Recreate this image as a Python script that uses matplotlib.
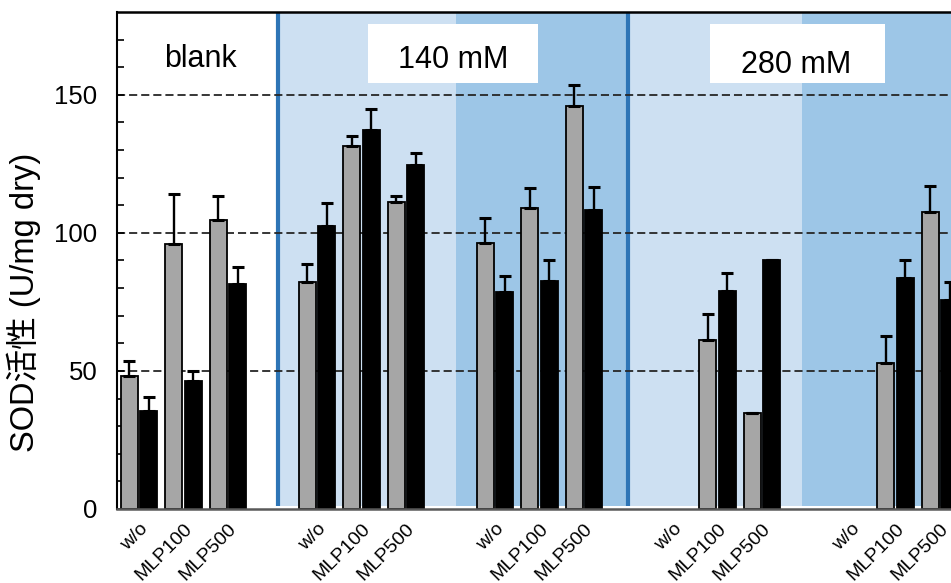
import numpy as np
import matplotlib
matplotlib.use("Agg")
import matplotlib.pyplot as plt
from matplotlib.patches import Rectangle

plt.rcParams["font.family"] = ["Liberation Sans", "Noto Sans CJK JP", "DejaVu Sans"]

# ── data ────────────────────────────────────────────────
treatments = ["w/o", "MLP100", "MLP500"]
n_groups = 5          # blank, 140 mM (x2), 280 mM (x2)

nan = np.nan
gray_mean = [48.0, 96.0, 104.5,
             82.2, 131.6, 111.3,
             96.4, 109.0, 146.1,
             nan, 61.1, 34.9,
             nan, 53.0, 107.7]
gray_err = [5.5, 18.0, 9.0,
            6.6, 3.4, 2.2,
            8.8, 7.1, 7.3,
            nan, 9.6, 0.0,
            nan, 9.5, 9.4]
black_mean = [35.5, 46.5, 81.5,
              102.6, 137.2, 124.6,
              78.6, 82.7, 108.3,
              nan, 78.9, 90.0,
              nan, 83.7, 75.5]
black_err = [5.0, 3.3, 6.0,
             8.1, 7.7, 4.2,
             5.7, 7.5, 8.2,
             nan, 6.5, 0.3,
             nan, 6.3, 6.7]

# ── layout helpers ──────────────────────────────────────
pos = np.array([g * 4 + c for g in range(n_groups) for c in range(len(treatments))], float)
labels = treatments * n_groups

light_blue = "#CDE0F2"
mid_blue = "#9DC6E7"
line_blue = "#2E75B6"

fig = plt.figure(figsize=(9.51, 5.83), dpi=100)
ax = fig.add_axes([0.1228, 0.127, 0.889, 0.8525])
ax.set_xlim(-0.5, 18.5)
ax.set_ylim(0, 180)

# background shading for salt regions
spans = [(3.17, 7.12, light_blue), (7.12, 10.95, mid_blue),
         (11.03, 14.9, light_blue), (14.9, 18.5, mid_blue)]
for x0, x1, c in spans:
    ax.axvspan(x0, x1, ymin=0.005, ymax=1, color=c, lw=0, zorder=0)
for xl in [3.12, 10.99]:
    ax.plot([xl, xl], [1, 180], color=line_blue, lw=3, zorder=1, solid_capstyle="butt")

for yv in [50, 100, 150]:
    ax.axhline(yv, color="#262626", lw=1.3, ls=(0, (4.5, 2.2)), zorder=1)

w = 0.38
off = 0.22
ekw = dict(ecolor="black", elinewidth=1.7, capsize=4, capthick=2.2)
gm = np.array(gray_mean)
bm = np.array(black_mean)
ax.bar(pos - off, gm, width=w, color="#A6A6A6", edgecolor="black", lw=1.3, zorder=2)
ax.errorbar(pos - off, gm, yerr=[np.zeros(len(gm)), gray_err], fmt="none", zorder=3, **ekw)
ax.bar(pos + off, bm, width=w, color="black", edgecolor="black", lw=1.3, zorder=2)
ax.errorbar(pos + off, bm, yerr=[np.zeros(len(bm)), black_err], fmt="none", zorder=3, **ekw)

# group labels
ax.text(1.37, 160.2, "blank", fontsize=22, ha="center", va="baseline", zorder=5)
for (x0, x1), txt, xt, yb in [((5.15, 8.97), "140 mM", 7.06, 159.6),
                              ((12.83, 16.76), "280 mM", 14.77, 157.9)]:
    ax.add_patch(Rectangle((x0, 154.3), x1 - x0, 21.5, facecolor="white",
                           edgecolor="none", zorder=4))
    ax.text(xt, yb, txt, fontsize=22, ha="center", va="baseline", zorder=5)

# axes styling
ax.set_xticks(pos)
ax.set_xticklabels(labels, rotation=45, ha="right", va="top",
                   rotation_mode="anchor", fontsize=14)
ax.tick_params(axis="x", length=0, pad=8)
ax.set_yticks(range(0, 180, 10))
ax.set_yticklabels([str(v) if v % 50 == 0 else "" for v in range(0, 180, 10)], fontsize=18.5)
ax.tick_params(axis="y", direction="in", length=5, width=1.2, pad=14)

ax.spines["left"].set_linewidth(1.5)
ax.spines["top"].set_linewidth(1.8)
ax.spines["bottom"].set_linewidth(1.8)
ax.spines["bottom"].set_color("#595959")
ax.spines["right"].set_visible(False)

ax.set_ylabel("SOD活性 (U/mg dry)", fontsize=23.5)
ax.yaxis.set_label_coords(-0.09, 0.415)

fig.savefig("out.png", dpi=100)
